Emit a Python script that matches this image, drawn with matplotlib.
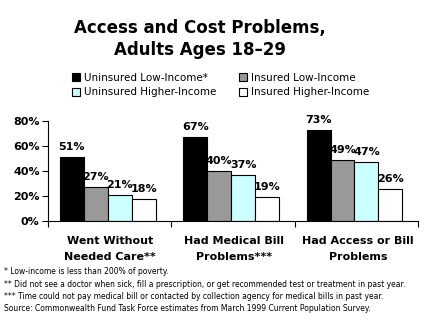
import numpy as np
import matplotlib.pyplot as plt

categories = ["Went Without\nNeeded Care**", "Had Medical Bill\nProblems***", "Had Access or Bill\nProblems"]
series = ["Uninsured Low-Income*", "Insured Low-Income", "Uninsured Higher-Income", "Insured Higher-Income"]
values = [
    [51, 67, 73],
    [27, 40, 49],
    [21, 37, 47],
    [18, 19, 26],
]
colors = ["#000000", "#999999", "#ccffff", "#ffffff"]
notes = [
    "* Low-income is less than 200% of poverty.",
    "** Did not see a doctor when sick, fill a prescription, or get recommended test or treatment in past year.",
    "*** Time could not pay medical bill or contacted by collection agency for medical bills in past year.",
    "Source: Commonwealth Fund Task Force estimates from March 1999 Current Population Survey.",
]

fig = plt.figure(figsize=(4.3, 3.22), dpi=100)
ax = fig.add_axes([48 / 430, 101 / 322, 370 / 430, 100 / 322])

w = 0.194
x = np.arange(len(categories))
handles = []
for k, (name, vals) in enumerate(zip(series, values)):
    left = x + 0.097 + k * w
    bars = ax.bar(left, vals, width=w, align="edge", color=colors[k],
                  edgecolor="black", linewidth=0.8, label=name)
    handles.append(bars)
    for xl, v in zip(left, vals):
        ax.text(xl + w / 2, v + 4, f"{v}%", ha="center", va="bottom",
                fontsize=8, fontweight="bold")

ax.set_xlim(0, 3)
ax.set_ylim(0, 80)
ax.set_yticks([0, 20, 40, 60, 80])
ax.set_yticklabels([f"{t}%" for t in [0, 20, 40, 60, 80]], fontsize=8, fontweight="bold")
ax.set_xticks([0, 1, 2, 3])
ax.set_xticklabels([])
ax.tick_params(axis="both", direction="out", length=4, width=0.8)
ax.tick_params(axis="y", pad=2)
for s in ["top", "right"]:
    ax.spines[s].set_visible(False)

for i, c in enumerate(categories):
    fig.text((48 + 124 * (i + 0.5)) / 430, 1 - 249 / 322, c, ha="center", va="center",
             fontsize=8, fontweight="bold", linespacing=1.8)

fig.text(200 / 430, 1 - 39 / 322, "Access and Cost Problems,\nAdults Ages 18\u201329",
         ha="center", va="center", fontsize=12, fontweight="heavy", linespacing=1.3)

# legend filled row by row
order = [0, 2, 1, 3]
fig.legend([handles[i] for i in order], [series[i] for i in order],
           loc="upper left", bbox_to_anchor=(72 / 430, 1 - 73 / 322), ncol=2,
           frameon=False, handlelength=0.8, handleheight=0.8,
           handletextpad=0.4, columnspacing=2.1, labelspacing=0.4,
           borderpad=0, borderaxespad=0, prop={"size": 7.5})

for j, n in enumerate(notes):
    fig.text(4 / 430, 1 - (272 + 12.3 * j) / 322, n, ha="left", va="center", fontsize=5.5)

fig.savefig("out.png", dpi=100)
